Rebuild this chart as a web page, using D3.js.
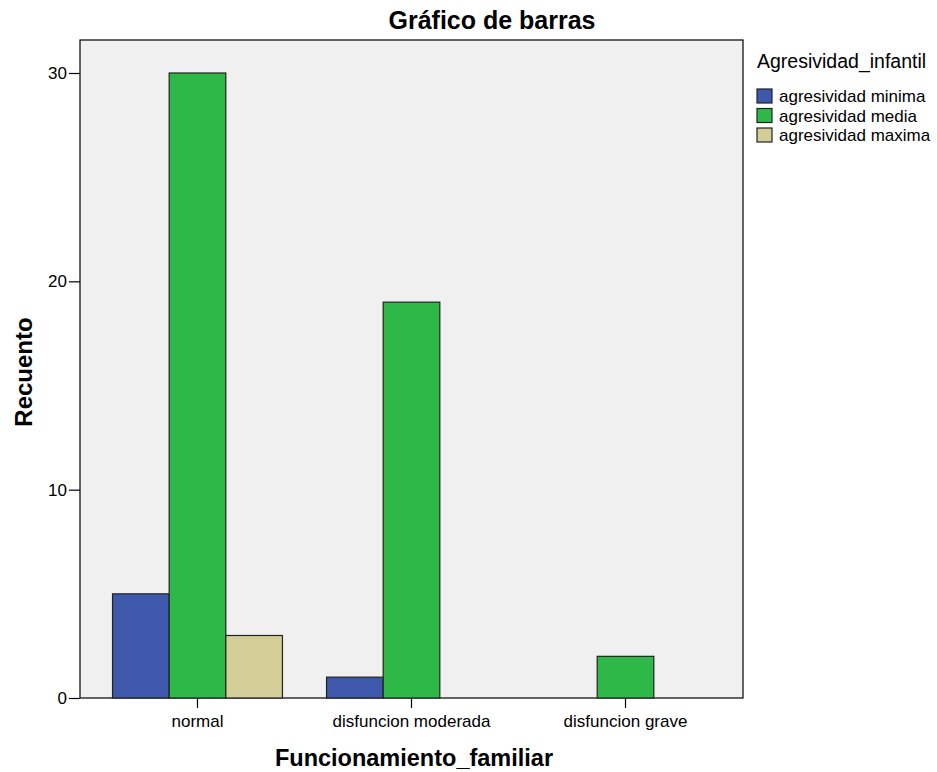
<!DOCTYPE html>
<html>
<head>
<meta charset="utf-8">
<script src="https://cdn.jsdelivr.net/npm/d3@7"></script>
<style>
  body { margin: 0; background: #fff; }
  text { font-family: "Liberation Sans", Arial, sans-serif; fill: #000; }
</style>
</head>
<body>
<svg id="chart" width="937" height="772"></svg>
<script>
var categories = ["normal", "disfuncion moderada", "disfuncion grave"];
var series = ["agresividad minima", "agresividad media", "agresividad maxima"];
var minima = [5, 1, 0];
var media = [30, 19, 2];
var maxima = [3, 0, 0];
var yTicks = [0, 10, 20, 30];
var colors = ["#3e58ac", "#2eb848", "#d3ce97"];

var values = [minima, media, maxima];
var plot = {left: 80, top: 40, right: 743, bottom: 698};

var svg = d3.select("#chart");

var xScale = d3.scaleBand()
  .domain(categories)
  .range([plot.left, plot.right])
  .paddingInner(0.206)
  .paddingOuter(0.152);

var xSub = d3.scaleBand()
  .domain(series)
  .range([0, xScale.bandwidth()]);

var yScale = d3.scaleLinear()
  .domain([0, 30])
  .range([plot.bottom, plot.bottom - 625]);

// plot background
svg.append("rect")
  .attr("x", plot.left).attr("y", plot.top)
  .attr("width", plot.right - plot.left)
  .attr("height", plot.bottom - plot.top)
  .attr("fill", "#f0f0f0")
  .attr("stroke", "#000").attr("stroke-width", 1.2);

// bars
var groups = svg.selectAll("g.cat")
  .data(categories)
  .enter().append("g")
  .attr("class", "cat")
  .attr("transform", function(d) { return "translate(" + xScale(d) + ",0)"; });

groups.selectAll("rect")
  .data(function(d, i) {
    return series.map(function(s, j) { return {s: s, v: values[j][i], c: colors[j]}; })
      .filter(function(e) { return e.v > 0; });
  })
  .enter().append("rect")
  .attr("x", function(d) { return xSub(d.s); })
  .attr("y", function(d) { return yScale(d.v); })
  .attr("width", xSub.bandwidth())
  .attr("height", function(d) { return yScale(0) - yScale(d.v); })
  .attr("fill", function(d) { return d.c; })
  .attr("stroke", "#222").attr("stroke-width", 1.2);

// axes
var yAxis = svg.append("g")
  .attr("transform", "translate(" + plot.left + ",0)")
  .call(d3.axisLeft(yScale).tickValues(yTicks).tickSize(11).tickPadding(2));
yAxis.select(".domain").remove();
yAxis.selectAll("line").attr("stroke-width", 1.2);
yAxis.selectAll("text").style("font-size", "17px").attr("fill", "#222");

var xAxis = svg.append("g")
  .attr("transform", "translate(0," + plot.bottom + ")")
  .call(d3.axisBottom(xScale).tickSize(10).tickPadding(7));
xAxis.select(".domain").remove();
xAxis.selectAll("line").attr("stroke-width", 1.2);
xAxis.selectAll("text").style("font-size", "17px").attr("fill", "#222");

// titles
svg.append("text")
  .attr("x", 492).attr("y", 29)
  .attr("text-anchor", "middle")
  .style("font-size", "25px").style("font-weight", "bold")
  .text("Gráfico de barras");

svg.append("text")
  .attr("transform", "translate(32,372) rotate(-90)")
  .attr("text-anchor", "middle")
  .style("font-size", "24px").style("font-weight", "bold")
  .text("Recuento");

svg.append("text")
  .attr("x", 414).attr("y", 766)
  .attr("text-anchor", "middle")
  .style("font-size", "23.5px").style("font-weight", "bold")
  .text("Funcionamiento_familiar");

// legend
var legend = svg.append("g").attr("transform", "translate(756,0)");
legend.append("text")
  .attr("x", 1).attr("y", 68)
  .style("font-size", "19.5px").attr("fill", "#222")
  .text("Agresividad_infantil");

var item = legend.selectAll("g.item")
  .data(series)
  .enter().append("g")
  .attr("class", "item")
  .attr("transform", function(d, i) { return "translate(0," + (89 + i * 19.5) + ")"; });

item.append("rect")
  .attr("x", 1).attr("y", 0)
  .attr("width", 15).attr("height", 14)
  .attr("fill", function(d, i) { return colors[i]; })
  .attr("stroke", "#222").attr("stroke-width", 1.2);

item.append("text")
  .attr("x", 23).attr("y", 13)
  .style("font-size", "17px").attr("fill", "#222")
  .text(function(d) { return d; });
</script>
</body>
</html>
